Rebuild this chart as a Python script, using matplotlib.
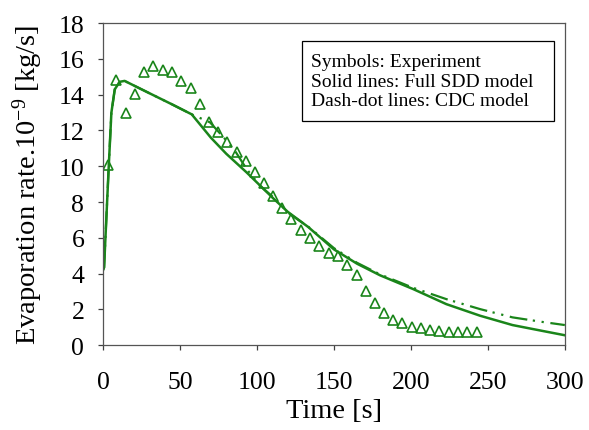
import matplotlib.pyplot as plt
from matplotlib.patches import Rectangle

plt.rcParams['font.family'] = 'Liberation Serif'
plt.rcParams['mathtext.fontset'] = 'custom'
plt.rcParams['mathtext.rm'] = 'Liberation Serif'
plt.rcParams['mathtext.it'] = 'Liberation Serif:italic'

# experiment (symbols)
exp_t = [3.0, 8.4, 15.0, 21.0, 26.8, 32.7, 38.7, 44.8, 50.8, 56.9, 63.0, 68.8,
         74.7, 80.5, 86.8, 92.7, 98.7, 104.6, 110.6, 116.4, 122.3, 128.6, 134.6,
         140.5, 146.5, 152.6, 158.6, 164.7, 170.6, 176.6, 182.7, 188.5, 194.4,
         200.4, 206.5, 212.3, 218.4, 224.7, 230.5, 236.6, 242.7]
exp_y = [10.08, 14.83, 12.97, 14.03, 15.28, 15.61, 15.39, 15.28, 14.77, 14.35,
         13.49, 12.50, 11.94, 11.36, 10.80, 10.28, 9.69, 9.05, 8.35, 7.69, 7.04,
         6.45, 5.96, 5.52, 5.14, 4.96, 4.47, 3.91, 3.04, 2.35, 1.79, 1.41, 1.23,
         1.02, 0.93, 0.86, 0.78, 0.74, 0.71, 0.71, 0.71]

# full SDD model (solid)
sdd_t = [0, 0.65, 2.1, 3.7, 5.4, 7.6, 10.8, 14.0, 29.2, 45.0, 57.6, 70.0, 80.0,
         93.3, 110.6, 120.0, 133.3, 150.0, 165.0, 180.0, 201.5, 223.0, 245.0,
         266.0, 285.0, 300.0]
sdd_y = [4.2, 4.34, 7.04, 10.02, 13.0, 14.3, 14.72, 14.77, 14.12, 13.45, 12.9,
         11.6, 10.7, 9.65, 8.2, 7.45, 6.6, 5.35, 4.55, 3.9, 3.13, 2.29, 1.64,
         1.12, 0.8, 0.55]

# CDC model (dash-dot)
cdc_t = [0, 0.65, 2.1, 3.7, 5.4, 7.6, 10.8, 14.0, 29.2, 45.0, 57.6, 69.5, 80.3,
         85.7, 93.3, 102.0, 109.5, 121.4, 133.3, 150.0, 165.0, 180.0, 201.5,
         223.0, 245.0, 266.0, 285.0, 300.0]
cdc_y = [4.2, 4.34, 7.04, 10.02, 13.0, 14.3, 14.72, 14.77, 14.12, 13.45, 12.9,
         12.45, 11.42, 10.86, 9.84, 8.9, 8.35, 7.32, 6.62, 5.42, 4.6, 3.95, 3.2,
         2.57, 2.01, 1.55, 1.3, 1.12]

col = '#1a851a'

fig = plt.figure(figsize=(5.89, 4.31), dpi=100)
ax = fig.add_axes([0.175, 0.197, 0.784, 0.747])

ax.plot(cdc_t, cdc_y, color=col, lw=1.6, linestyle=(0, (8, 2.5, 1, 3, 1, 3)))
ax.plot(sdd_t, sdd_y, color=col, lw=1.8)
ax.plot(exp_t, exp_y, linestyle='none', marker='^', markersize=7,
        markerfacecolor='none', markeredgecolor=col, markeredgewidth=1.2)

ax.set_xlim(0, 300)
ax.set_ylim(0, 18)
ax.set_xticks(range(0, 301, 50))
ax.set_yticks(range(0, 19, 2))
ax.tick_params(direction='out', length=3.5, width=0.9, labelsize=18.5, colors='#404040',
               labelcolor='black')
ax.tick_params(axis='x', pad=15)
ax.tick_params(axis='y', pad=10)
for s in ax.spines.values():
    s.set_color('#555555')
    s.set_linewidth(0.9)

ax.set_xlabel('Time [s]', fontsize=20.5, labelpad=4)
ax.set_ylabel(r'Evaporation rate.10$^{-9}$ [kg/s]', fontsize=20.5, labelpad=10)

ax.add_patch(Rectangle((0.431, 0.696), 0.545, 0.248, transform=ax.transAxes,
                       fill=False, edgecolor='black', lw=0.9))
ax.text(0.45, 0.82, 'Symbols: Experiment\nSolid lines: Full SDD model\nDash-dot lines: CDC model',
        transform=ax.transAxes, fontsize=14, va='center', ha='left', linespacing=1.2)

fig.savefig('out.png', dpi=100)
